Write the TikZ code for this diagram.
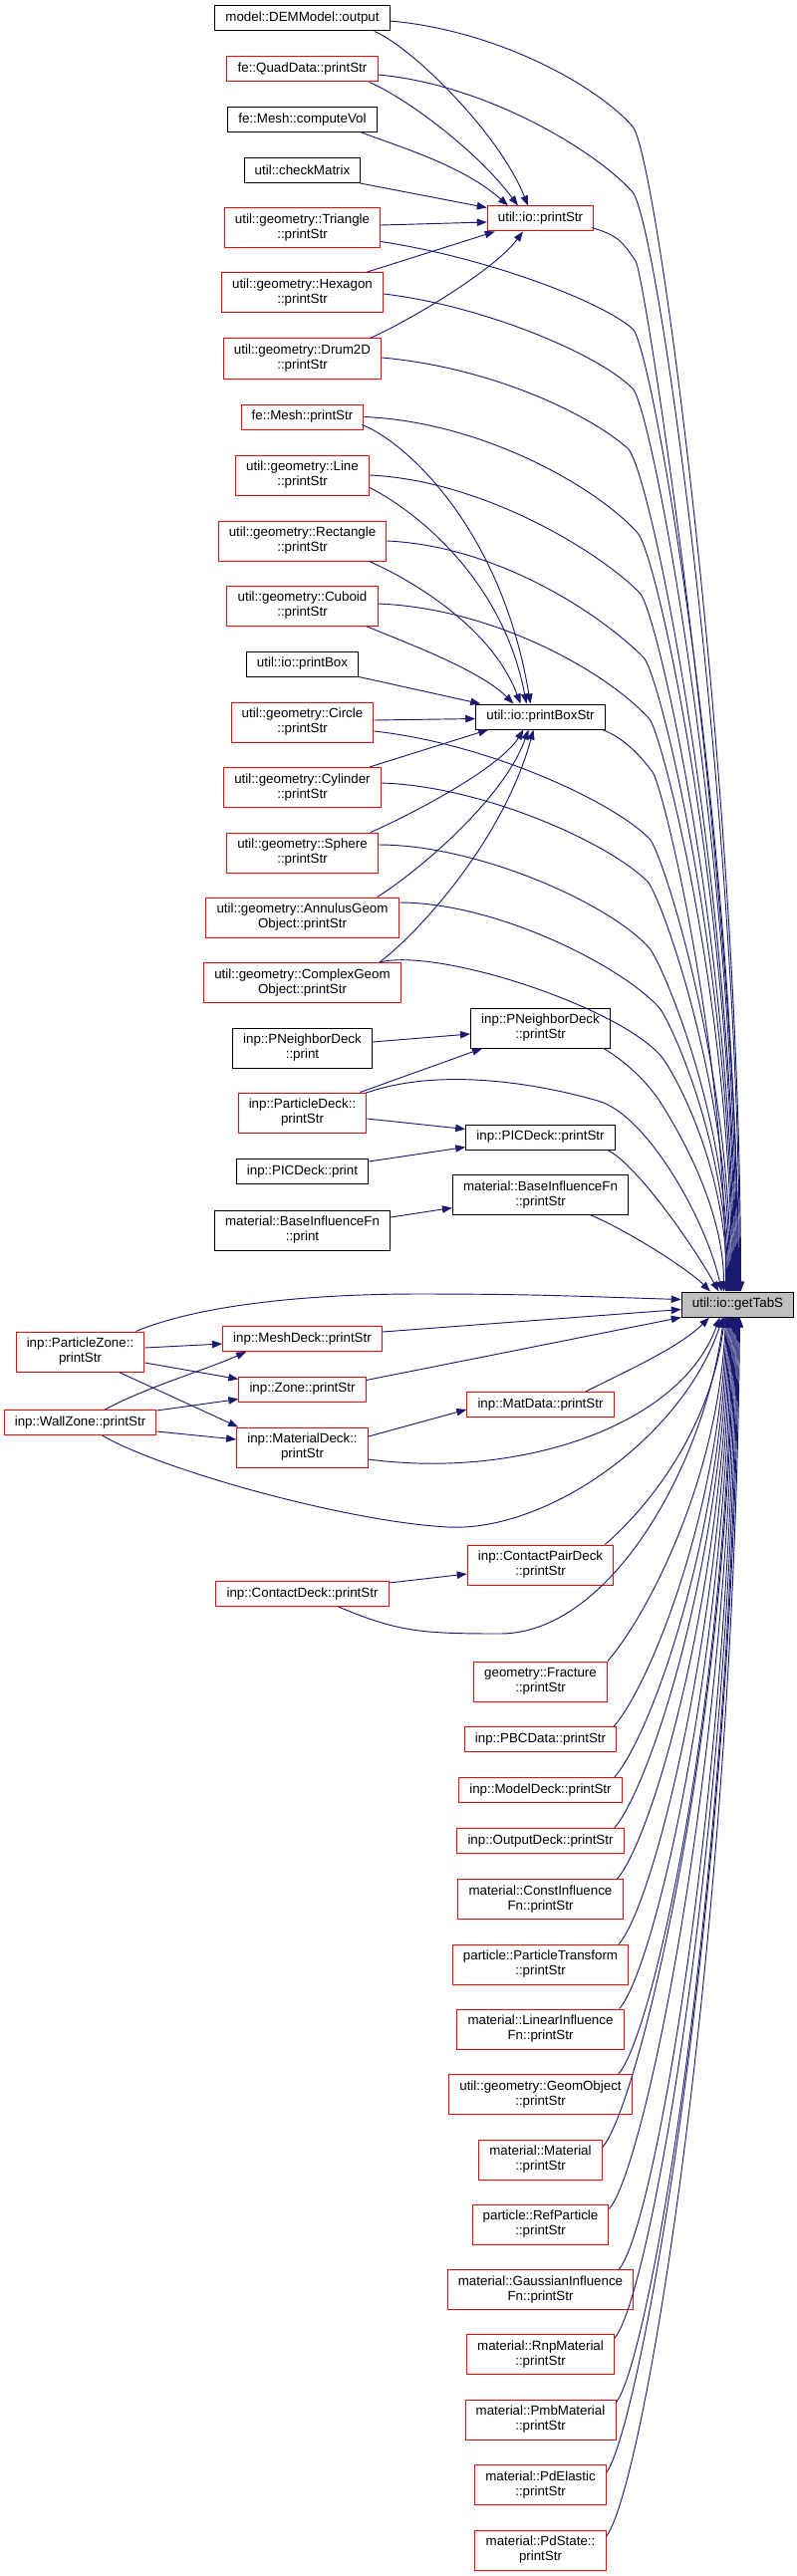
\documentclass[tikz,border=0pt]{standalone}
\usepackage{fontspec}
\setmainfont{Liberation Sans}
\usetikzlibrary{arrows.meta,calc}
\definecolor{dxblau}{HTML}{191970}
\definecolor{dxgrau}{HTML}{BFBFBF}

\begin{document}
\begin{tikzpicture}[x=0.75pt,y=-0.75pt,
  box/.style={draw, line width=0.75pt, fill=white, inner xsep=8pt, inner ysep=2pt,
    minimum height=18.75pt, align=center, font=\fontsize{10}{11.25}\selectfont},
  rot/.style={box, draw=red},
  schwarz/.style={box, draw=black},
  zwei/.style={minimum height=30pt},
  ziel/.style={box, draw=black, fill=dxgrau},
  kante/.style={draw=dxblau, line width=0.7pt, -{Triangle[length=7.5pt,width=5.5pt]}}]

% ---------- Parameter (Spalten) ----------
\def\xf{80.5}
\def\xl{303.5}
\def\xm{542.5}

\useasboundingbox (0,0) rectangle (799,2586);

% ===================
% linke Spalte
% ===================
\node[schwarz] (dem) at (\xl,18.5) {model::DEMModel::output};
\node[rot] (quad) at (\xl,69.5) {fe::QuadData::printStr};
\node[schwarz] (vol) at (\xl,120) {fe::Mesh::computeVol};
\node[schwarz] (chk) at (\xl,171) {util::checkMatrix};
\node[rot,zwei] (tri) at (\xl,229) {util::geometry::Triangle\\::printStr};
\node[rot,zwei] (hex) at (\xl,294) {util::geometry::Hexagon\\::printStr};
\node[rot,zwei] (drum) at (\xl,360) {util::geometry::Drum2D\\::printStr};
\node[rot] (mesh) at (\xl,418.5) {fe::Mesh::printStr};
\node[rot,zwei] (line) at (\xl,477) {util::geometry::Line\\::printStr};
\node[rot,zwei] (rect) at (\xl,543) {util::geometry::Rectangle\\::printStr};
\node[rot,zwei] (cub) at (\xl,608) {util::geometry::Cuboid\\::printStr};
\node[schwarz] (pbox) at (\xl,666.5) {util::io::printBox};
\node[rot,zwei] (circ) at (\xl,725) {util::geometry::Circle\\::printStr};
\node[rot,zwei] (cyl) at (\xl,790.5) {util::geometry::Cylinder\\::printStr};
\node[rot,zwei] (sph) at (\xl,856) {util::geometry::Sphere\\::printStr};
\node[rot,zwei] (ann) at (\xl,921) {util::geometry::AnnulusGeom\\Object::printStr};
\node[rot,zwei] (cplx) at (\xl,986.5) {util::geometry::ComplexGeom\\Object::printStr};
\node[schwarz,zwei] (pnp) at (\xl,1052) {inp::PNeighborDeck\\::print};
\node[rot,zwei] (pdeck) at (\xl,1117) {inp::ParticleDeck::\\printStr};
\node[schwarz] (picp) at (\xl,1176) {inp::PICDeck::print};
\node[schwarz,zwei] (bip) at (\xl,1235) {material::BaseInfluenceFn\\::print};
\node[rot] (meshd) at (\xl,1344) {inp::MeshDeck::printStr};
\node[rot] (zone) at (\xl,1394.5) {inp::Zone::printStr};
\node[rot,zwei] (matd) at (\xl,1453) {inp::MaterialDeck::\\printStr};
\node[rot] (cdeck) at (\xl,1600) {inp::ContactDeck::printStr};

% ganz links
\node[rot,zwei] (pzone) at (\xf,1357) {inp::ParticleZone::\\printStr};
\node[rot] (wzone) at (\xf,1428) {inp::WallZone::printStr};

% ===================
% mittlere Spalte
% ===================
\node[rot] (pstr) at (\xm,219.5) {util::io::printStr};
\node[schwarz] (pbstr) at (\xm,719.5) {util::io::printBoxStr};
\node[schwarz,zwei] (pns) at (\xm,1032) {inp::PNeighborDeck\\::printStr};
\node[schwarz] (pics) at (\xm,1141.5) {inp::PICDeck::printStr};
\node[schwarz,zwei] (bis) at (\xm,1199.5) {material::BaseInfluenceFn\\::printStr};
\node[rot] (matdata) at (\xm,1410) {inp::MatData::printStr};
\node[rot,zwei] (cpair) at (\xm,1571) {inp::ContactPairDeck\\::printStr};
\node[rot,zwei] (frac) at (\xm,1688) {geometry::Fracture\\::printStr};
\node[rot] (pbc) at (\xm,1746) {inp::PBCData::printStr};
\node[rot] (model) at (\xm,1797) {inp::ModelDeck::printStr};
\node[rot] (outd) at (\xm,1848) {inp::OutputDeck::printStr};
\node[rot,zwei] (cinf) at (\xm,1906.5) {material::ConstInfluence\\Fn::printStr};
\node[rot,zwei] (ptr) at (\xm,1972) {particle::ParticleTransform\\::printStr};
\node[rot,zwei] (linf) at (\xm,2037) {material::LinearInfluence\\Fn::printStr};
\node[rot,zwei] (geo) at (\xm,2102.5) {util::geometry::GeomObject\\::printStr};
\node[rot,zwei] (mat) at (\xm,2168) {material::Material\\::printStr};
\node[rot,zwei] (refp) at (\xm,2233) {particle::RefParticle\\::printStr};
\node[rot,zwei] (ginf) at (\xm,2298.5) {material::GaussianInfluence\\Fn::printStr};
\node[rot,zwei] (rnp) at (\xm,2363.5) {material::RnpMaterial\\::printStr};
\node[rot,zwei] (pmb) at (\xm,2429) {material::PmbMaterial\\::printStr};
\node[rot,zwei] (pde) at (\xm,2494.5) {material::PdElastic\\::printStr};
\node[rot,zwei] (pds) at (\xm,2560) {material::PdState::\\printStr};

% Ziel
\node[ziel] (G) at (740.5,1309.5) {util::io::getTabS};

% ---------- Kanten nach util::io::printStr ----------
\draw[kante] ($(dem.south east)+(-16,0)$) .. controls +(35,14) and +(-30,-75) .. ($(pstr.north)+(-12.5,0)$);
\draw[kante] ($(quad.south east)+(-9,0)$) .. controls +(30,12) and +(-45,-60) .. ($(pstr.north)+(-22.5,0)$);
\draw[kante] ($(vol.south east)+(-16,0)$) .. controls +(40,15) and +(-45,-40) .. ($(pstr.north)+(-32.5,0)$);
\draw[kante] ($(chk.south east)+(-1,0)$) -- ($(pstr.north west)+(0,2)$);
\draw[kante] ($(tri.east)+(0,-3)$) -- ($(pstr.west)+(0,3.5)$);
\draw[kante] ($(hex.north east)+(-18,0)$) -- ($(pstr.south west)+(8,0)$);
\draw[kante] ($(drum.north east)+(-12,0)$) .. controls +(35,-15) and +(-30,40) .. ($(pstr.south)+(-17.5,0)$);

% ---------- Kanten nach util::io::printBoxStr ----------
\draw[kante] ($(mesh.south east)+(-2,-5)$) .. controls +(40,15) and +(-30,-180) .. ($(pbstr.north)+(-10,0)$);
\draw[kante] ($(line.south east)+(0,-8)$) .. controls +(40,20) and +(-25,-130) .. ($(pbstr.north)+(-14,0)$);
\draw[kante] ($(rect.south east)+(-18,0)$) .. controls +(35,15) and +(-30,-80) .. ($(pbstr.north)+(-20,0)$);
\draw[kante] ($(cub.south east)+(-12,0)$) .. controls +(35,15) and +(-35,-35) .. ($(pbstr.north)+(-27,0)$);
\draw[kante] (pbox.south east) -- ($(pbstr.north west)+(5,0)$);
\draw[kante] ($(circ.east)+(0,-2)$) -- ($(pbstr.west)+(0,2)$);
\draw[kante] ($(cyl.north east)+(-12,0)$) -- ($(pbstr.south west)+(13,0)$);
\draw[kante] ($(sph.north east)+(-8,0)$) .. controls +(35,-15) and +(-25,40) .. ($(pbstr.south)+(-17,0)$);
\draw[kante] ($(ann.north east)+(-22,0)$) .. controls +(40,-25) and +(-25,70) .. ($(pbstr.south)+(-12,0)$);
\draw[kante] ($(cplx.north east)+(-22,0)$) .. controls +(40,-30) and +(-30,110) .. ($(pbstr.south)+(-7,0)$);

% ---------- kleine Kanten ----------
\draw[kante] ($(pnp.east)+(0,-6)$) -- ($(pns.west)+(0,6)$);
\draw[kante] ($(pdeck.north east)+(-7,0)$) -- ($(pns.south west)+(12,0)$);
\draw[kante] ($(pdeck.east)+(0,6)$) -- ($(pics.west)+(0,-8)$);
\draw[kante] ($(picp.east)+(0,-10)$) -- ($(pics.west)+(0,10)$);
\draw[kante] ($(bip.east)+(0,-13)$) -- ($(bis.west)+(0,13)$);
\draw[kante] ($(pzone.east)+(0,-4)$) -- ($(meshd.west)+(0,5)$);
\draw[kante] ($(pzone.east)+(0,11)$) -- ($(zone.west)+(0,-10)$);
\draw[kante] ($(pzone.south east)+(-26,0)$) -- ($(matd.north west)+(2,0)$);
\draw[kante] ($(wzone.north)+(25,0)$) .. controls +(40,-22) and +(-40,18) .. ($(meshd.south west)+(24,0)$);
\draw[kante] ($(wzone.north east)+(0,1)$) -- ($(zone.west)+(0,10)$);
\draw[kante] ($(wzone.east)+(0,9)$) -- ($(matd.west)+(0,-8)$);
\draw[kante] ($(matd.east)+(0,-11)$) -- ($(matdata.west)+(0,5)$);
\draw[kante] ($(cdeck.east)+(0,-11)$) -- ($(cpair.west)+(0,9)$);

% ===================
% Kanten nach util::io::getTabS (von oben)
% ===================
\draw[kante] ($(dem.east)+(0,2.5)$) .. controls +(110,10) and +(-35,-40) .. (635,127) .. controls +(25,29) and +(0,-500) .. ($(G.north)+(3,0)$);
\draw[kante] ($(quad.east)+(0,5.5)$) .. controls +(110,10) and +(-35,-40) .. (635,193) .. controls +(25,29) and +(0,-480) .. ($(G.north)+(2,0)$);
\draw[kante] ($(pstr.south east)+(-2,-4)$) .. controls +(25,8) and +(-15,-22) .. (638,262) .. controls +(10,15) and +(0,-400) .. ($(G.north)+(1,0)$);
\draw[kante] ($(tri.south east)+(0,-7)$) .. controls +(100,15) and +(-35,-30) .. (635,330) .. controls +(20,17) and +(0,-450) .. ($(G.north)+(0,0)$);
\draw[kante] ($(hex.east)+(0,1)$) .. controls +(100,12) and +(-35,-35) .. (635,390) .. controls +(20,20) and +(0,-430) .. ($(G.north)+(-1,0)$);
\draw[kante] ($(drum.east)+(0,-1)$) .. controls +(110,10) and +(-40,-35) .. (630,450) .. controls +(23,20) and +(0,-400) .. ($(G.north)+(-2,0)$);
\draw[kante] (mesh.east) .. controls +(120,5) and +(-40,-45) .. (640,535) .. controls +(20,22) and +(0,-380) .. ($(G.north)+(-3,0)$);
\draw[kante] (line.east) .. controls +(110,5) and +(-45,-45) .. (642,595) .. controls +(18,18) and +(0,-340) .. ($(G.north)+(-4,0)$);
\draw[kante] (rect.east) .. controls +(110,5) and +(-45,-45) .. (646,660) .. controls +(16,16) and +(0,-320) .. ($(G.north)+(-5,0)$);
\draw[kante] ($(cub.east)+(0,-2)$) .. controls +(120,5) and +(-40,-45) .. (652,722) .. controls +(12,14) and +(0,-290) .. ($(G.north)+(-6,0)$);
\draw[kante] ($(circ.east)+(0,9)$) .. controls +(110,12) and +(-40,-40) .. (652,842) .. controls +(12,12) and +(0,-230) .. ($(G.north)+(-7,0)$);
\draw[kante] ($(cyl.east)+(0,-4.5)$) .. controls +(100,3) and +(-40,-40) .. (650,885) .. controls +(12,12) and +(0,-210) .. ($(G.north)+(-8,0)$);
\draw[kante] ($(sph.east)+(0,-8)$) .. controls +(100,0) and +(-40,-45) .. (652,952) .. controls +(10,11) and +(0,-180) .. ($(G.north)+(-9,0)$);
\draw[kante] ($(ann.east)+(0,-15)$) .. controls +(100,0) and +(-35,-40) .. (662,1012) .. controls +(9,10) and +(0,-150) .. ($(G.north)+(-10,0)$);
\draw[kante] ($(cplx.north east)+(-22,0)$) .. controls +(60,-15) and +(-40,-50) .. (665,1062) .. controls +(8,10) and +(0,-130) .. ($(G.north)+(-11,0)$);
\draw[kante] ($(pbstr.south east)+(-3,0)$) .. controls +(20,8) and +(-15,-20) .. (655,775) .. controls +(10,13) and +(0,-250) .. ($(G.north)+(-12,0)$);
\draw[kante] ($(pns.south east)+(-7,0)$) .. controls +(20,12) and +(-15,-25) .. (665,1110) .. controls +(8,13) and +(0,-90) .. ($(G.north)+(-14,0)$);
\draw[kante] ($(pdeck.north east)+(-2,1)$) .. controls +(70,-25) and +(-70,-20) .. (600,1105) .. controls +(50,14) and +(-15,-70) .. ($(G.north)+(-16,0)$);
\draw[kante] ($(pics.south east)+(-8,0)$) .. controls +(30,15) and +(-25,-45) .. ($(G.north)+(-19,0)$);
\draw[kante] ($(bis.south east)+(-38,0)$) .. controls +(30,12) and +(-25,-25) .. ($(G.north)+(-27.5,0)$);

% ---------- von links ----------
\draw[kante] ($(pzone.north east)+(-9,0)$) .. controls +(60,-25) and +(-120,0) .. (420,1299) .. controls +(120,0) and +(-100,-3) .. ($(G.west)+(0,-5)$);
\draw[kante] ($(meshd.east)+(0,-7)$) -- ($(G.west)+(0,5)$);
\draw[kante] ($(zone.east)+(0,-9)$) -- (G.south west);
\draw[kante] ($(matdata.north east)+(-29,0)$) .. controls +(40,-20) and +(-30,30) .. ($(G.south)+(-28.5,0)$);
\draw[kante] ($(matd.east)+(0,12)$) .. controls +(150,20) and +(-40,110) .. ($(G.south)+(-18,0)$);
\draw[kante] ($(wzone.south)+(22,0)$) .. controls +(60,35) and +(-100,-5) .. (450,1533) .. controls +(100,5) and +(-40,120) .. ($(G.south)+(-15,0)$);
\draw[kante] ($(cdeck.south east)+(-51,0)$) .. controls +(60,25) and +(-80,0) .. (502,1640) .. controls +(110,0) and +(-20,150) .. ($(G.south)+(-14,0)$);
\draw[kante] ($(cpair.north east)+(-9,0)$) .. controls +(35,-30) and +(-15,120) .. ($(G.south)+(-13,0)$);

% ---------- von unten ----------
\draw[kante] (frac.north east) .. controls +(35,-40) and +(-8,170) .. ($(G.south)+(-12,0)$);
\draw[kante] ($(pbc.north east)+(-3,0)$) .. controls +(35,-40) and +(-8,200) .. ($(G.south)+(-11,0)$);
\draw[kante] ($(model.north east)+(-8,0)$) .. controls +(35,-40) and +(-8,230) .. ($(G.south)+(-10,0)$);
\draw[kante] ($(outd.north east)+(-10,0)$) .. controls +(35,-40) and +(-7,250) .. ($(G.south)+(-9,0)$);
\draw[kante] ($(cinf.north east)+(-6,0)$) .. controls +(35,-40) and +(-7,280) .. ($(G.south)+(-8,0)$);
\draw[kante] ($(ptr.north east)+(-10,0)$) .. controls +(35,-40) and +(-7,310) .. ($(G.south)+(-7,0)$);
\draw[kante] ($(linf.north east)+(-5,0)$) .. controls +(35,-40) and +(-7,350) .. ($(G.south)+(-6,0)$);
\draw[kante] ($(geo.north east)+(-14,0)$) .. controls +(35,-40) and +(-6,380) .. ($(G.south)+(-5,0)$);
\draw[kante] ($(mat.north east)+(0,8)$) .. controls +(35,-40) and +(-6,420) .. ($(G.south)+(-4,0)$);
\draw[kante] ($(refp.north east)+(0,5)$) .. controls +(35,-40) and +(-6,450) .. ($(G.south)+(-3,0)$);
\draw[kante] ($(ginf.north east)+(-15,0)$) .. controls +(35,-40) and +(-6,480) .. ($(G.south)+(-2,0)$);
\draw[kante] ($(rnp.north east)+(0,4)$) .. controls +(35,-40) and +(-5,520) .. ($(G.south)+(-1,0)$);
\draw[kante] ($(pmb.north east)+(0,3)$) .. controls +(35,-45) and +(-5,550) .. ($(G.south)+(0,0)$);
\draw[kante] ($(pde.north east)+(0,8)$) .. controls +(35,-50) and +(-5,580) .. ($(G.south)+(1,0)$);
\draw[kante] ($(pds.north east)+(0,7)$) .. controls +(40,-55) and +(-5,610) .. ($(G.south)+(2,0)$);

\end{tikzpicture}
\end{document}
